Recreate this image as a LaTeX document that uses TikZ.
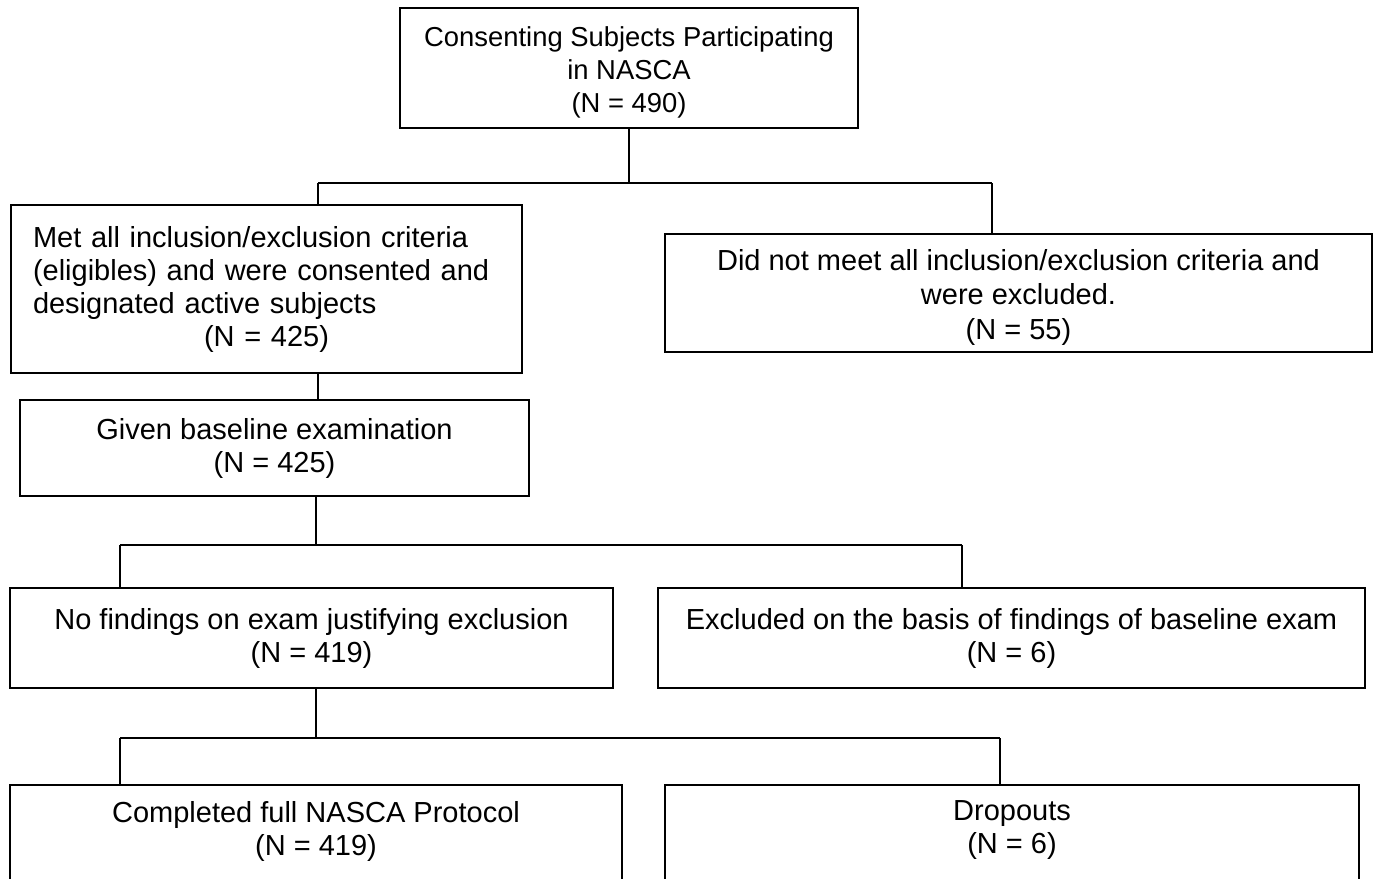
\documentclass[tikz,border=0pt]{standalone}
\usepackage{fontspec}
\setmainfont{Liberation Sans}
\begin{document}
\begin{tikzpicture}[x=0.5pt,y=-0.5pt,
  box/.style={draw,line width=1pt,inner sep=0pt,align=center,
    font=\fontsize{14.5}{16.5}\selectfont},
  link/.style={line width=1pt}]
\clip (0,0) rectangle (1379,878);
\fill[white] (0,0) rectangle (1379,878);
% boxes
\node[box,font=\fontsize{13.7}{16.5}\selectfont,minimum width=229pt,minimum height=60pt] (top) at (629,68)
  {\rule{0pt}{14pt}Consenting Subjects Participating\\in NASCA\\(N = 490)};
\node[box,minimum width=255.5pt,minimum height=84pt,text width=233.5pt,align=left] (elig) at (266.5,289)
  {Met all inclusion/exclusion criteria\\(eligibles) and were consented and\\designated active subjects\\\makebox[\linewidth]{(N = 425)}};
\node[box,font=\fontsize{14.5}{17.25}\selectfont,minimum width=353.5pt,minimum height=59pt] (excl1) at (1018.5,293)
  {\rule{0pt}{14.6pt}Did not meet all inclusion/exclusion criteria and\\were excluded.\\(N = 55)};
\node[box,minimum width=254.5pt,minimum height=48pt] (base) at (274.5,448)
  {Given baseline examination\\(N = 425)};
\node[box,minimum width=301.5pt,minimum height=50pt] (nofind) at (311.5,638)
  {No findings on exam justifying exclusion\\(N = 419)};
\node[box,minimum width=353.5pt,minimum height=50pt] (excl2) at (1011.5,638)
  {Excluded on the basis of findings of baseline exam\\(N = 6)};
\node[box,minimum width=306pt,inner ysep=8pt,anchor=north] (comp) at (316,784)
  {Completed full NASCA Protocol\\(N = 419)\rule[-60pt]{0pt}{0pt}};
\node[box,minimum width=347pt,inner ysep=8pt,anchor=north] (drop) at (1012,784)
  {Dropouts\\(N = 6)\rule[-60pt]{0pt}{0pt}};
% junctions
\coordinate (j1) at (629,183);
\coordinate (j1L) at (318,183);
\coordinate (j1R) at (992,183);
\coordinate (j2) at (316,545);
\coordinate (j2L) at (120,545);
\coordinate (j2R) at (962,545);
\coordinate (j3) at (316,738);
\coordinate (j3L) at (120,738);
\coordinate (j3R) at (1000,738);
% connectors
\draw[link] (top.south) -- (j1);
\draw[link] (j1L) -- (j1R);
\draw[link] (j1L) -- (j1L |- elig.north);
\draw[link] (j1R) -- (j1R |- excl1.north);
\draw[link] (j1L |- elig.south) -- (j1L |- base.north);
\draw[link] (j2 |- base.south) -- (j2);
\draw[link] (j2L) -- (j2R);
\draw[link] (j2L) -- (j2L |- nofind.north);
\draw[link] (j2R) -- (j2R |- excl2.north);
\draw[link] (j3 |- nofind.south) -- (j3);
\draw[link] (j3L) -- (j3R);
\draw[link] (j3L) -- (j3L |- comp.north);
\draw[link] (j3R) -- (j3R |- drop.north);
\end{tikzpicture}
\end{document}
